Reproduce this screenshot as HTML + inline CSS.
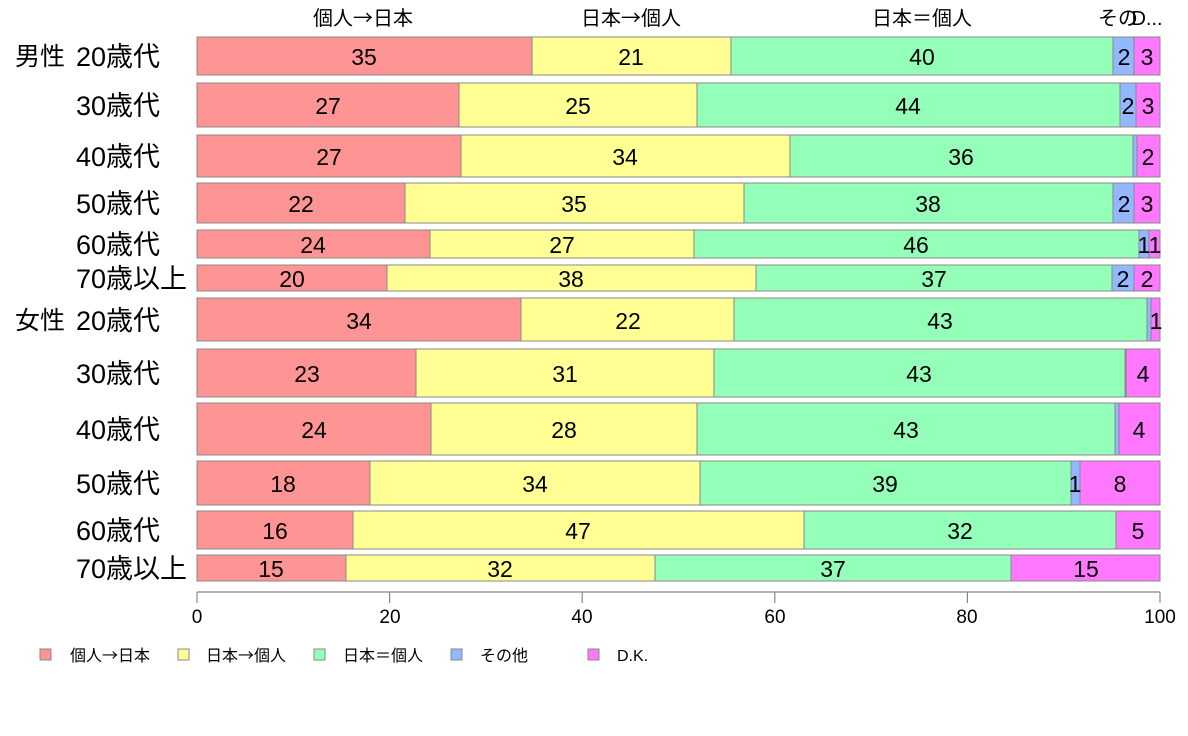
<!DOCTYPE html>
<html><head><meta charset="utf-8"><style>
body{margin:0;background:#fff}
svg{display:block;font-family:"Liberation Sans","Noto Sans CJK JP",sans-serif}
.v{font-size:23px;text-anchor:middle;dominant-baseline:central;fill:#000}
.l{font-size:27px;dominant-baseline:central}
.h{font-size:20px;text-anchor:middle}
.t{font-size:19px;text-anchor:middle}
.g{font-size:16px}
.a{font-family:"Noto Sans CJK JP",sans-serif}
rect{stroke:#888;stroke-width:1}
</style></head><body>
<svg width="1188" height="736" xmlns="http://www.w3.org/2000/svg">
<g class="h"><text x="363" y="25">個人<tspan class="a">→</tspan>日本</text><text x="631" y="25">日本<tspan class="a">→</tspan>個人</text><text x="922" y="25">日本＝個人</text><text x="1118" y="25">その</text><text x="1147" y="25">D...</text></g>
<g class="l">
<text x="15" y="57" font-size="25">男性</text><text x="15" y="321" font-size="25">女性</text>
<text x="76" y="57">20歳代</text><text x="76" y="106">30歳代</text><text x="76" y="157">40歳代</text><text x="76" y="204">50歳代</text><text x="76" y="245">60歳代</text><text x="76" y="279">70歳以上</text>
<text x="76" y="321">20歳代</text><text x="76" y="374">30歳代</text><text x="76" y="430">40歳代</text><text x="76" y="484">50歳代</text><text x="76" y="531">60歳代</text><text x="76" y="569">70歳以上</text>
</g>
<!-- R1 -->
<rect x="197" y="37" width="335" height="38" fill="#ff9494"/><rect x="532" y="37" width="199" height="38" fill="#ffff94"/><rect x="731" y="37" width="382" height="38" fill="#94ffb8"/><rect x="1113" y="37" width="21" height="38" fill="#94b8ff"/><rect x="1134" y="37" width="26" height="38" fill="#ff78ff"/>
<text class="v" x="364" y="57">35</text><text class="v" x="631" y="57">21</text><text class="v" x="922" y="57">40</text><text class="v" x="1124" y="57">2</text><text class="v" x="1147" y="57">3</text>
<!-- R2 -->
<rect x="197" y="83" width="262" height="44" fill="#ff9494"/><rect x="459" y="83" width="238" height="44" fill="#ffff94"/><rect x="697" y="83" width="423" height="44" fill="#94ffb8"/><rect x="1120" y="83" width="16" height="44" fill="#94b8ff"/><rect x="1136" y="83" width="24" height="44" fill="#ff78ff"/>
<text class="v" x="328" y="106">27</text><text class="v" x="578" y="106">25</text><text class="v" x="908" y="106">44</text><text class="v" x="1128" y="106">2</text><text class="v" x="1148" y="106">3</text>
<!-- R3 -->
<rect x="197" y="135" width="264" height="42" fill="#ff9494"/><rect x="461" y="135" width="329" height="42" fill="#ffff94"/><rect x="790" y="135" width="343" height="42" fill="#94ffb8"/><rect x="1133" y="135" width="4" height="42" fill="#94b8ff"/><rect x="1137" y="135" width="23" height="42" fill="#ff78ff"/>
<text class="v" x="329" y="157">27</text><text class="v" x="625" y="157">34</text><text class="v" x="961" y="157">36</text><text class="v" x="1148" y="157">2</text>
<!-- R4 -->
<rect x="197" y="183" width="208" height="40" fill="#ff9494"/><rect x="405" y="183" width="339" height="40" fill="#ffff94"/><rect x="744" y="183" width="369" height="40" fill="#94ffb8"/><rect x="1113" y="183" width="21" height="40" fill="#94b8ff"/><rect x="1134" y="183" width="26" height="40" fill="#ff78ff"/>
<text class="v" x="301" y="204">22</text><text class="v" x="574" y="204">35</text><text class="v" x="928" y="204">38</text><text class="v" x="1124" y="204">2</text><text class="v" x="1147" y="204">3</text>
<!-- R5 -->
<rect x="197" y="230" width="233" height="28" fill="#ff9494"/><rect x="430" y="230" width="264" height="28" fill="#ffff94"/><rect x="694" y="230" width="445" height="28" fill="#94ffb8"/><rect x="1139" y="230" width="10" height="28" fill="#94b8ff"/><rect x="1149" y="230" width="11" height="28" fill="#ff78ff"/>
<text class="v" x="313" y="245">24</text><text class="v" x="562" y="245">27</text><text class="v" x="916" y="245">46</text><text class="v" x="1144" y="245">1</text><text class="v" x="1155" y="245">1</text>
<!-- R6 -->
<rect x="197" y="265" width="190" height="26" fill="#ff9494"/><rect x="387" y="265" width="369" height="26" fill="#ffff94"/><rect x="756" y="265" width="356" height="26" fill="#94ffb8"/><rect x="1112" y="265" width="22" height="26" fill="#94b8ff"/><rect x="1134" y="265" width="26" height="26" fill="#ff78ff"/>
<text class="v" x="292" y="279">20</text><text class="v" x="571" y="279">38</text><text class="v" x="934" y="279">37</text><text class="v" x="1123" y="279">2</text><text class="v" x="1147" y="279">2</text>
<!-- R7 -->
<rect x="197" y="298" width="324" height="43" fill="#ff9494"/><rect x="521" y="298" width="213" height="43" fill="#ffff94"/><rect x="734" y="298" width="413" height="43" fill="#94ffb8"/><rect x="1147" y="298" width="4" height="43" fill="#94b8ff"/><rect x="1151" y="298" width="9" height="43" fill="#ff78ff"/>
<text class="v" x="359" y="321">34</text><text class="v" x="628" y="321">22</text><text class="v" x="940" y="321">43</text><text class="v" x="1156" y="321">1</text>
<!-- R8 -->
<rect x="197" y="349" width="219" height="48" fill="#ff9494"/><rect x="416" y="349" width="298" height="48" fill="#ffff94"/><rect x="714" y="349" width="411" height="48" fill="#94ffb8"/><rect x="1125" y="349" width="1" height="48" fill="#94b8ff"/><rect x="1126" y="349" width="34" height="48" fill="#ff78ff"/>
<text class="v" x="307" y="374">23</text><text class="v" x="565" y="374">31</text><text class="v" x="919" y="374">43</text><text class="v" x="1143" y="374">4</text>
<!-- R9 -->
<rect x="197" y="403" width="234" height="52" fill="#ff9494"/><rect x="431" y="403" width="266" height="52" fill="#ffff94"/><rect x="697" y="403" width="418" height="52" fill="#94ffb8"/><rect x="1115" y="403" width="4" height="52" fill="#94b8ff"/><rect x="1119" y="403" width="41" height="52" fill="#ff78ff"/>
<text class="v" x="314" y="430">24</text><text class="v" x="564" y="430">28</text><text class="v" x="906" y="430">43</text><text class="v" x="1139" y="430">4</text>
<!-- R10 -->
<rect x="197" y="461" width="173" height="44" fill="#ff9494"/><rect x="370" y="461" width="330" height="44" fill="#ffff94"/><rect x="700" y="461" width="371" height="44" fill="#94ffb8"/><rect x="1071" y="461" width="9" height="44" fill="#94b8ff"/><rect x="1080" y="461" width="80" height="44" fill="#ff78ff"/>
<text class="v" x="283" y="484">18</text><text class="v" x="535" y="484">34</text><text class="v" x="885" y="484">39</text><text class="v" x="1075" y="484">1</text><text class="v" x="1120" y="484">8</text>
<!-- R11 -->
<rect x="197" y="511" width="156" height="38" fill="#ff9494"/><rect x="353" y="511" width="451" height="38" fill="#ffff94"/><rect x="804" y="511" width="312" height="38" fill="#94ffb8"/><rect x="1116" y="511" width="44" height="38" fill="#ff78ff"/>
<text class="v" x="275" y="531">16</text><text class="v" x="578" y="531">47</text><text class="v" x="960" y="531">32</text><text class="v" x="1138" y="531">5</text>
<!-- R12 -->
<rect x="197" y="555" width="149" height="26" fill="#ff9494"/><rect x="346" y="555" width="309" height="26" fill="#ffff94"/><rect x="655" y="555" width="356" height="26" fill="#94ffb8"/><rect x="1011" y="555" width="149" height="26" fill="#ff78ff"/>
<text class="v" x="271" y="569">15</text><text class="v" x="500" y="569">32</text><text class="v" x="833" y="569">37</text><text class="v" x="1086" y="569">15</text>
<!-- axis -->
<g stroke="#888" stroke-width="1.2" fill="none">
<path d="M197 592H1160M197 592V603M389.6 592V603M582.2 592V603M774.8 592V603M967.4 592V603M1160 592V603"/>
</g>
<g class="t"><text x="197" y="623">0</text><text x="390" y="623">20</text><text x="582" y="623">40</text><text x="775" y="623">60</text><text x="967" y="623">80</text><text x="1160" y="623">100</text></g>
<!-- legend -->
<g class="g">
<rect x="40" y="649" width="11" height="11" fill="#ff9494"/><text x="70" y="661">個人<tspan class="a">→</tspan>日本</text>
<rect x="178" y="649" width="11" height="11" fill="#ffff94"/><text x="206" y="661">日本<tspan class="a">→</tspan>個人</text>
<rect x="314" y="649" width="11" height="11" fill="#94ffb8"/><text x="343" y="661">日本＝個人</text>
<rect x="451" y="649" width="11" height="11" fill="#94b8ff"/><text x="480" y="661">その他</text>
<rect x="588" y="649" width="11" height="11" fill="#ff78ff"/><text x="617" y="661">D.K.</text>
</g>
</svg>
</body></html>
